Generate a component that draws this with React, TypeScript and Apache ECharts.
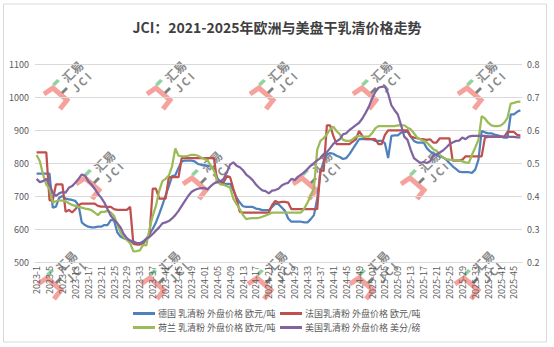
import React, { useEffect, useRef } from "react";
import * as echarts from "echarts";

// Weekly categories: 2023 weeks are unpadded, later years are zero-padded
const YEARS = [2023, 2024, 2025];
const WEEKS_PER_YEAR = [52, 52, 47];
const weekLabels: string[] = YEARS.flatMap((y, k) =>
  Array.from({ length: WEEKS_PER_YEAR[k] }, (_, w) =>
    y === 2023 ? `${y}-${w + 1}` : `${y}-${String(w + 1).padStart(2, "0")}`
  )
);

const SERIES_NAMES = [
  "德国 乳清粉 外盘价格 欧元/吨",
  "法国乳清粉 外盘价格 欧元/吨",
  "荷兰 乳清粉 外盘价格 欧元/吨",
  "美国乳清粉 外盘价格 美分/磅",
];

// 欧元/吨
const germany = [
  768, 768, 768, 768, 768, 665, 668, 695, 700, 692,
  690, 688, 685, 672, 620, 612, 607, 605, 605, 607,
  607, 612, 612, 627, 627, 590, 577, 572, 568, 562,
  558, 557, 557, 562, 570, 585, 600, 620, 645, 672,
  702, 730, 760, 763, 785, 805, 807, 807, 807, 805,
  797, 795, 792, 792, 790, 782, 755, 742, 737, 737,
  737, 717, 695, 680, 669, 667, 667, 667, 662, 660,
  657, 657, 657, 667, 677, 675, 665, 655, 632, 622,
  622, 622, 622, 620, 620, 630, 642, 692, 772, 805,
  825, 830, 828, 822, 818, 812, 815, 827, 842, 857,
  872, 872, 872, 872, 872, 867, 867, 867, 860, 815,
  882, 884, 884, 892, 894, 894, 880, 867, 862, 862,
  862, 845, 835, 828, 824, 820, 817, 810, 800, 790,
  782, 774, 772, 772, 772, 770, 780, 810, 897, 893,
  890, 890, 886, 884, 880, 877, 877, 947, 947, 955,
  960,
];

const france = [
  832, 832, 832, 832, 687, 687, 735, 735, 735, 652,
  658, 650, 660, 672, 677, 677, 677, 677, 677, 670,
  668, 668, 667, 667, 660, 658, 658, 658, 658, 667,
  555, 553, 553, 555, 570, 578, 722, 722, 692, 692,
  692, 757, 757, 757, 757, 815, 815, 815, 815, 815,
  815, 815, 815, 815, 815, 815, 742, 742, 742, 760,
  757, 722, 690, 652, 650, 650, 650, 650, 650, 650,
  650, 650, 650, 672, 685, 680, 682, 682, 680, 660,
  660, 660, 660, 660, 660, 660, 660, 660, 780, 775,
  914, 914, 882, 857, 857, 857, 857, 857, 865, 872,
  897, 882, 872, 872, 872, 872, 857, 857, 885, 899,
  899, 899, 899, 899, 899, 899, 880, 877, 875, 872,
  872, 870, 872, 862, 862, 875, 875, 875, 875, 807,
  807, 807, 810, 820, 820, 820, 820, 820, 820, 877,
  879, 879, 879, 879, 879, 879, 894, 894, 894, 885,
  884,
];

const netherlands = [
  824, 805, 765, 735, 722, 680, 684, 687, 686, 684,
  678, 673, 670, 667, 665, 662, 660, 657, 650, 642,
  652, 652, 655, 650, 640, 615, 590, 575, 567, 557,
  532, 533, 535, 552, 550, 600, 640, 670, 715, 745,
  752, 762, 790, 844, 822, 820, 820, 822, 825, 825,
  822, 817, 812, 808, 792, 777, 745, 735, 734, 730,
  725, 692, 675, 660, 642, 630, 632, 633, 633, 634,
  637, 641, 645, 650, 650, 650, 650, 650, 650, 650,
  650, 650, 650, 662, 680, 700, 725, 840, 867, 875,
  887, 902, 910, 897, 887, 870, 867, 867, 872, 880,
  882, 880, 880, 880, 890, 905, 912, 912, 912, 912,
  912, 912, 914, 914, 914, 907, 902, 890, 877, 872,
  867, 862, 852, 842, 837, 825, 817, 812, 810, 809,
  809, 808, 805, 802, 800, 825, 847, 870, 942, 935,
  922, 914, 912, 912, 914, 922, 937, 980, 982, 985,
  986,
];

// 美分/磅 (right axis)
const usa = [
  0.452, 0.442, 0.445, 0.452, 0.435, 0.410, 0.400, 0.408, 0.412, 0.410,
  0.425, 0.430, 0.440, 0.452, 0.465, 0.462, 0.445, 0.435, 0.422, 0.407,
  0.395, 0.380, 0.360, 0.340, 0.328, 0.318, 0.305, 0.285, 0.272, 0.265,
  0.262, 0.258, 0.256, 0.260, 0.270, 0.276, 0.285, 0.295, 0.305, 0.317,
  0.320, 0.324, 0.332, 0.342, 0.355, 0.370, 0.385, 0.400, 0.412, 0.418,
  0.422, 0.424, 0.424, 0.420, 0.430, 0.438, 0.442, 0.445, 0.452, 0.472,
  0.495, 0.502, 0.492, 0.487, 0.478, 0.465, 0.457, 0.448, 0.435, 0.425,
  0.417, 0.415, 0.408, 0.416, 0.418, 0.422, 0.432, 0.437, 0.440, 0.452,
  0.448, 0.458, 0.465, 0.472, 0.482, 0.492, 0.500, 0.508, 0.515, 0.526,
  0.533, 0.545, 0.558, 0.566, 0.572, 0.587, 0.590, 0.600, 0.607, 0.615,
  0.622, 0.635, 0.652, 0.670, 0.695, 0.715, 0.728, 0.731, 0.732, 0.710,
  0.675, 0.660, 0.647, 0.615, 0.580, 0.570, 0.540, 0.515, 0.507, 0.500,
  0.503, 0.500, 0.505, 0.522, 0.526, 0.532, 0.538, 0.547, 0.557, 0.562,
  0.567, 0.568, 0.577, 0.572, 0.580, 0.582, 0.582, 0.582, 0.582, 0.582,
  0.581, 0.581, 0.581, 0.581, 0.581, 0.580, 0.580, 0.579, 0.579, 0.578,
  0.578,
];

const COLORS = ["#4F81BD", "#C0504D", "#9BBB59", "#8064A2"];
const FONT = '"Noto Sans CJK SC", "Noto Sans", sans-serif';
const LABEL_COLOR = "#595959";

// Brand watermark anchors
const MARK_SPOTS: [number, number][] = [
  [56, 97], [159, 97], [262, 97], [365, 97], [470, 97],
  [88, 187], [195, 187], [305, 187], [413, 187],
  [50, 287], [153, 287], [260, 287], [362, 287], [467, 287],
];

function watermark(x: number, y: number) {
  return {
    type: "group",
    x,
    y,
    z: 1,
    silent: true,
    children: [
      {
        type: "polyline",
        shape: { points: [[-12, -3], [-3, -9], [11, 3], [4, 12]] },
        style: { stroke: "#f5a29c", lineWidth: 5, fill: null },
      },
      {
        type: "polygon",
        shape: { points: [[-4, -13], [1, -18], [4, -16], [-1, -11]] },
        style: { fill: "#8fd3a0" },
      },
      {
        type: "polygon",
        shape: { points: [[5, -5], [10, -10], [12, -8], [7, -3]] },
        style: { fill: "#7f7f7f" },
      },
      {
        type: "text",
        x: 16,
        y: -26,
        rotation: Math.PI / 4,
        style: {
          text: "汇易",
          fill: "#8a8a8a",
          font: `bold 12px ${FONT}`,
          align: "center",
          verticalAlign: "middle",
        },
      },
      {
        type: "text",
        x: 25,
        y: -15,
        rotation: Math.PI / 4,
        style: {
          text: "J C I",
          fill: "#8a8a8a",
          font: `bold 11px ${FONT}`,
          align: "center",
          verticalAlign: "middle",
        },
      },
    ],
  };
}

function legendItem(idx: number, left: number, top: number) {
  return {
    data: [SERIES_NAMES[idx]],
    left,
    top,
    icon: "rect",
    itemWidth: 22,
    itemHeight: 3,
    itemGap: 0,
    padding: 0,
    textStyle: { fontSize: 9, color: LABEL_COLOR, fontFamily: FONT, padding: [0, 0, 0, -2] },
    selectedMode: false,
  };
}

export default function App() {
  const ref = useRef<HTMLDivElement>(null);

  useEffect(() => {
    if (!ref.current) return;
    const chart = echarts.init(ref.current, undefined, { renderer: "svg" });
    const values = [germany, france, netherlands, usa];
    chart.setOption({
      animation: false,
      backgroundColor: "#ffffff",
      title: {
        text: "JCI：2021-2025年欧洲与美盘干乳清价格走势",
        left: "center",
        top: 15,
        textStyle: { fontSize: 14, fontWeight: "bold", color: "#404040", fontFamily: FONT },
      },
      legend: [
        legendItem(0, 133, 309),
        legendItem(1, 280, 309),
        legendItem(2, 133, 323),
        legendItem(3, 280, 323),
      ],
      grid: { left: 35, right: 32, top: 64, bottom: 85 },
      xAxis: {
        type: "category",
        data: weekLabels,
        boundaryGap: true,
        axisLine: { lineStyle: { color: "#d9d9d9" } },
        axisTick: { show: false },
        axisLabel: {
          interval: 3,
          rotate: 90,
          fontSize: 9,
          color: LABEL_COLOR,
          fontFamily: FONT,
          margin: 4,
        },
      },
      yAxis: [
        {
          type: "value",
          min: 500,
          max: 1100,
          interval: 100,
          axisLine: { show: false },
          axisTick: { show: false },
          splitLine: { lineStyle: { color: "#d9d9d9" } },
          axisLabel: {
            fontSize: 9,
            color: LABEL_COLOR,
            fontFamily: FONT,
            margin: 6,
            formatter: (v: number) => String(v),
          },
        },
        {
          type: "value",
          min: 0.2,
          max: 0.8,
          interval: 0.1,
          axisLine: { show: false },
          axisTick: { show: false },
          splitLine: { show: false },
          axisLabel: {
            fontSize: 9,
            color: LABEL_COLOR,
            fontFamily: FONT,
            margin: 5,
            formatter: (v: number) => v.toFixed(1),
          },
        },
      ],
      series: SERIES_NAMES.map((name, k) => ({
        name,
        type: "line",
        yAxisIndex: k === 3 ? 1 : 0,
        data: values[k],
        showSymbol: false,
        symbol: "none",
        color: COLORS[k],
        lineStyle: { width: 2.25, color: COLORS[k] },
        z: 2 + k,
      })),
      graphic: [
        {
          type: "rect",
          shape: { x: 3.5, y: 4, width: 543, height: 338 },
          style: { fill: null, stroke: "#d9d9d9", lineWidth: 1 },
          silent: true,
          z: 0,
        },
        ...MARK_SPOTS.map(([x, y]) => watermark(x, y)),
      ],
    });
    return () => chart.dispose();
  }, []);

  return (
    <div
      ref={ref}
      style={{ position: "fixed", left: 0, top: 0, width: 554, height: 347 }}
    />
  );
}
